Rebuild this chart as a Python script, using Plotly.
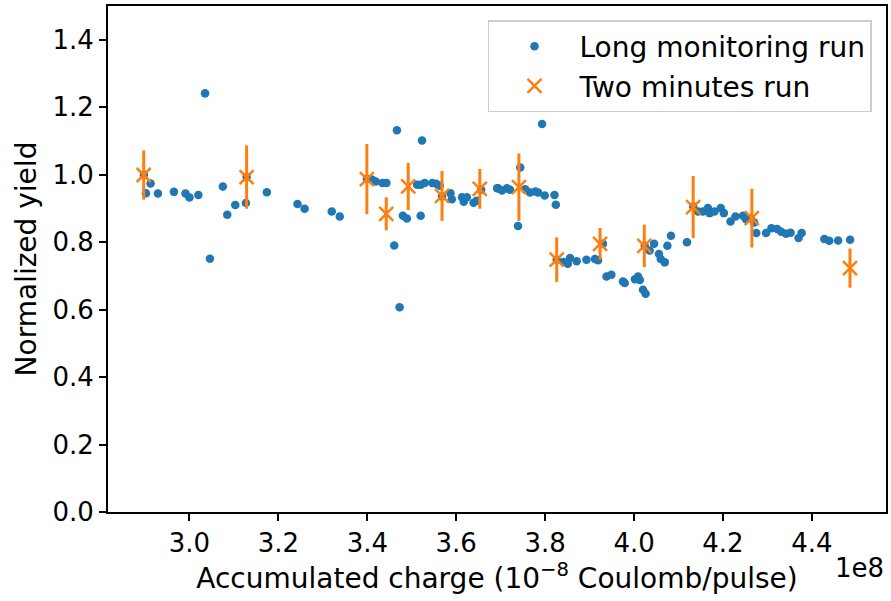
import plotly.graph_objects as go

# Accumulated charge in units of 1e8 (10^-8 Coulomb/pulse)
long_charge = [
    2.8975, 2.9125, 2.902, 2.929, 2.965, 2.991, 3.000, 3.020, 3.035, 3.046,
    3.075, 3.085, 3.103, 3.127, 3.1285, 3.174, 3.243, 3.259, 3.320, 3.338,
    3.399, 3.411, 3.419, 3.434, 3.443, 3.4666, 3.4606, 3.4726, 3.480, 3.489,
    3.520, 3.523, 3.512, 3.520, 3.529, 3.546, 3.555, 3.563, 3.568, 3.587,
    3.590, 3.613, 3.617, 3.624, 3.639, 3.646, 3.656, 3.692, 3.694, 3.703,
    3.714, 3.721, 3.744, 3.739, 3.755, 3.766, 3.778, 3.784, 3.799, 3.793,
    3.821, 3.824, 3.826, 3.841, 3.851, 3.856, 3.871, 3.893, 3.912, 3.919,
    3.930, 3.938, 3.949, 3.975, 3.979, 4.002, 4.009, 4.013, 4.020, 4.026,
    4.024, 4.035, 4.045, 4.056, 4.060, 4.069, 4.075, 4.083, 4.119, 4.133,
    4.144, 4.155, 4.166, 4.170, 4.181, 4.195, 4.202, 4.217, 4.228, 4.245,
    4.252, 4.262, 4.270, 4.275, 4.297, 4.309, 4.322, 4.331, 4.342, 4.352,
    4.370, 4.377, 4.428, 4.439, 4.459, 4.486,
]
long_yield = [
    1.000, 0.974, 0.945, 0.944, 0.949, 0.944, 0.932, 0.940, 1.241, 0.751,
    0.965, 0.881, 0.910, 0.916, 0.993, 0.948, 0.913, 0.899, 0.891, 0.876,
    0.987, 0.985, 0.980, 0.975, 0.975, 1.132, 0.790, 0.607, 0.878, 0.870,
    0.878, 1.101, 0.970, 0.970, 0.975, 0.975, 0.973, 0.967, 0.935, 0.945,
    0.927, 0.933, 0.920, 0.933, 0.917, 0.923, 0.955, 0.960, 0.960, 0.953,
    0.960, 0.955, 1.021, 0.848, 0.957, 0.947, 0.950, 0.947, 0.938, 1.150,
    0.940, 0.911, 0.748, 0.741, 0.736, 0.753, 0.743, 0.748, 0.750, 0.746,
    0.795, 0.698, 0.703, 0.683, 0.679, 0.690, 0.698, 0.688, 0.659, 0.647,
    0.789, 0.775, 0.795, 0.765, 0.750, 0.740, 0.789, 0.819, 0.800, 0.906,
    0.891, 0.891, 0.901, 0.886, 0.891, 0.901, 0.886, 0.861, 0.876, 0.878,
    0.868, 0.871, 0.858, 0.827, 0.827, 0.841, 0.839, 0.831, 0.825, 0.828,
    0.812, 0.827, 0.809, 0.804, 0.805, 0.807,
]

short_charge = [2.897, 3.1285, 3.399, 3.4426, 3.492, 3.568, 3.653,
                3.741, 3.826, 3.9235, 4.023, 4.133, 4.265, 4.4857]
short_yield = [0.999, 0.993, 0.987, 0.884, 0.965, 0.937, 0.958,
               0.963, 0.748, 0.795, 0.789, 0.904, 0.871, 0.723]
short_err = [0.073, 0.094, 0.104, 0.049, 0.070, 0.074, 0.059,
             0.100, 0.066, 0.047, 0.063, 0.092, 0.087, 0.058]

x_ticks = [3.0, 3.2, 3.4, 3.6, 3.8, 4.0, 4.2, 4.4]
y_ticks = [0.0, 0.2, 0.4, 0.6, 0.8, 1.0, 1.2, 1.4]

FONT = "DejaVu Sans"
FS_TICK = 26
FS = 28

fig = go.Figure()
fig.add_trace(go.Scatter(
    x=long_charge, y=long_yield, mode="markers",
    name="Long monitoring run",
    marker=dict(color="#1f77b4", size=8.5, line=dict(width=0)),
))
fig.add_trace(go.Scatter(
    x=short_charge, y=short_yield, mode="markers",
    name="Two minutes run",
    marker=dict(color="#ff7f0e", symbol="x-thin", size=14,
                line=dict(color="#ff7f0e", width=2.5)),
    error_y=dict(type="data", array=short_err, visible=True,
                 color="#ff7f0e", thickness=3, width=0),
))

axis_common = dict(
    showline=True, linecolor="black", linewidth=1.8, mirror=True,
    ticks="outside", ticklen=7, tickwidth=1.8, tickcolor="black",
    showgrid=False, zeroline=False,
    tickfont=dict(family=FONT, size=FS_TICK, color="black"),
)

fig.update_layout(
    width=891, height=601,
    margin=dict(l=108, r=3, t=6, b=89),
    paper_bgcolor="white", plot_bgcolor="white",
    font=dict(family=FONT, size=FS, color="black"),
    xaxis=dict(range=[2.8167, 4.5667], tickvals=x_ticks,
               ticktext=[f"{v:.1f}" for v in x_ticks],
               title=dict(text="Accumulated charge (10<sup>−8</sup> Coulomb/pulse)",
                          font=dict(family=FONT, size=FS), standoff=4),
               **axis_common),
    yaxis=dict(range=[0, 1.5], tickvals=y_ticks,
               ticktext=[f"{v:.1f}" for v in y_ticks],
               title=dict(text="Normalized yield",
                          font=dict(family=FONT, size=FS), standoff=8),
               **axis_common),
    legend=dict(x=0.982, y=0.972, xanchor="right", yanchor="top",
                bgcolor="rgba(255,255,255,0.8)", bordercolor="#cccccc",
                borderwidth=1.5, font=dict(family=FONT, size=FS),
                itemwidth=80),
    showlegend=True,
    annotations=[dict(text="1e8", xref="paper", yref="paper", x=1.0, y=-0.11,
                      xanchor="right", yanchor="middle", showarrow=False,
                      font=dict(family=FONT, size=FS_TICK, color="black"))],
)

fig.write_html("out.html")
